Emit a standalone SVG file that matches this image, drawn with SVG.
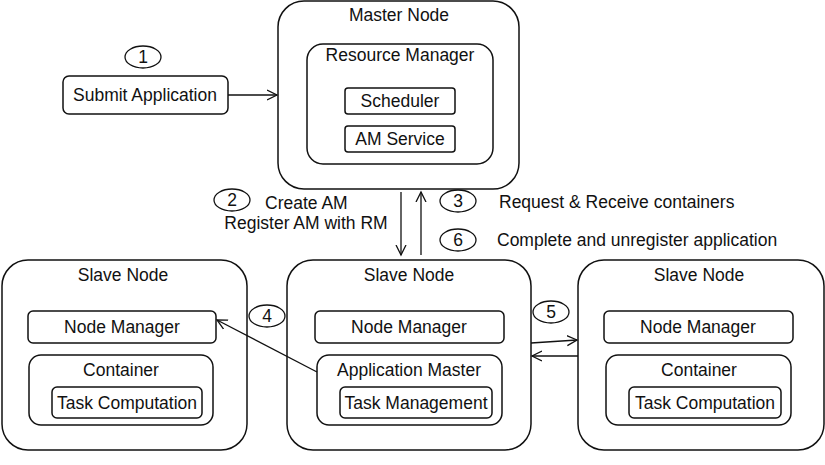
<svg xmlns="http://www.w3.org/2000/svg" width="825" height="465" viewBox="0 0 825 465">
<style>
.b{fill:#fff;stroke:#111;stroke-width:1.5}
.t{font-family:"Liberation Sans",Arial,sans-serif;font-size:17.5px;fill:#111;text-anchor:middle}
.s{text-anchor:start}
.c{fill:#fff;stroke:#111;stroke-width:1.3}
.e{fill:none;stroke:#111;stroke-width:1.3}
</style>
<defs>
<marker id="a" markerWidth="12" markerHeight="12" refX="10" refY="5" orient="auto" markerUnits="userSpaceOnUse" viewBox="0 0 12 10">
<path d="M0,0 L10,5 L0,10" fill="none" stroke="#111" stroke-width="1.3"/>
</marker>
</defs>
<rect width="825" height="465" fill="#fff"/>

<g id="submit">
<rect class="b" x="63" y="76" width="165" height="38" rx="6"/>
<text class="t" x="145" y="101">Submit Application</text>
</g>
<g id="master">
<rect class="b" x="278" y="1" width="241" height="188" rx="26"/>
<text class="t" x="399" y="21">Master Node</text>
<rect class="b" x="307" y="44" width="186" height="120" rx="16"/>
<text class="t" x="400" y="61">Resource Manager</text>
<rect class="b" x="345" y="88" width="110" height="26" rx="3"/>
<text class="t" x="400" y="107">Scheduler</text>
<rect class="b" x="345" y="126" width="110" height="26" rx="3"/>
<text class="t" x="400" y="145">AM Service</text>
</g>
<g id="slave1">
<rect class="b" x="2" y="260" width="245" height="190" rx="26"/>
<text class="t" x="123" y="281">Slave Node</text>
<rect class="b" x="28" y="311" width="188" height="32" rx="5"/>
<text class="t" x="122" y="333">Node Manager</text>
<rect class="b" x="29" y="355" width="184" height="70" rx="12"/>
<text class="t" x="121" y="376">Container</text>
<rect class="b" x="52" y="387" width="150" height="31" rx="5"/>
<text class="t" x="127" y="409">Task Computation</text>
</g>
<g id="slave2">
<rect class="b" x="287" y="260" width="244" height="190" rx="26"/>
<text class="t" x="409" y="281">Slave Node</text>
<rect class="b" x="315" y="311" width="189" height="32" rx="5"/>
<text class="t" x="409" y="333">Node Manager</text>
<rect class="b" x="317" y="355" width="185" height="70" rx="12"/>
<text class="t" x="409" y="376">Application Master</text>
<rect class="b" x="340" y="387" width="152" height="31" rx="5"/>
<text class="t" x="416" y="409">Task Management</text>
</g>
<g id="slave3">
<rect class="b" x="578" y="260" width="246" height="190" rx="26"/>
<text class="t" x="699" y="281">Slave Node</text>
<rect class="b" x="604" y="311" width="189" height="32" rx="5"/>
<text class="t" x="698" y="333">Node Manager</text>
<rect class="b" x="606" y="355" width="185" height="70" rx="12"/>
<text class="t" x="699" y="376">Container</text>
<rect class="b" x="629" y="387" width="152" height="31" rx="5"/>
<text class="t" x="705" y="409">Task Computation</text>
</g>

<g id="connectors">
<line class="e" x1="228" y1="95" x2="277" y2="95" marker-end="url(#a)"/>
<line class="e" x1="401" y1="192" x2="401" y2="255" marker-end="url(#a)"/>
<line class="e" x1="421" y1="255" x2="421" y2="192" marker-end="url(#a)"/>
<line class="e" x1="317" y1="372" x2="217" y2="320" marker-end="url(#a)"/>
<line class="e" x1="531" y1="343" x2="577" y2="340" marker-end="url(#a)"/>
<line class="e" x1="578" y1="356" x2="532" y2="356" marker-end="url(#a)"/>
</g>

<g id="labels">
<ellipse class="c" cx="143" cy="57" rx="18" ry="11"/>
<text class="t" x="143" y="63">1</text>
<ellipse class="c" cx="232" cy="200" rx="18" ry="11"/>
<text class="t" x="232" y="206">2</text>
<text class="t s" x="265" y="209">Create AM</text>
<text class="t" x="306" y="229">Register AM with RM</text>
<ellipse class="c" cx="458" cy="201" rx="18" ry="11"/>
<text class="t" x="458" y="207">3</text>
<text class="t s" x="499" y="208">Request &amp; Receive containers</text>
<ellipse class="c" cx="458" cy="240" rx="18" ry="11"/>
<text class="t" x="458" y="246">6</text>
<text class="t s" x="497" y="246">Complete and unregister application</text>
<ellipse class="c" cx="267" cy="316" rx="18" ry="11"/>
<text class="t" x="267" y="322">4</text>
<ellipse class="c" cx="551" cy="312" rx="18" ry="11"/>
<text class="t" x="551" y="318">5</text>
</g>
</svg>
